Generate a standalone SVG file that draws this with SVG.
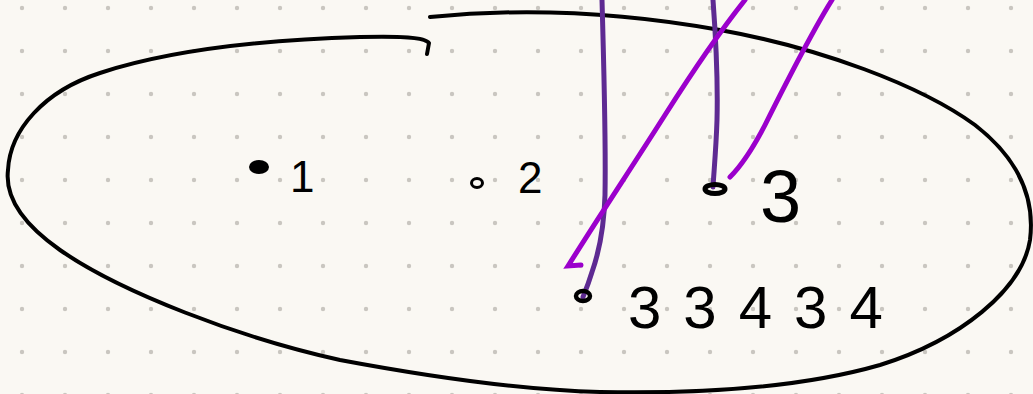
<svg xmlns="http://www.w3.org/2000/svg" width="1033" height="394" viewBox="0 0 1033 394">
<style>
.ink{fill:none;stroke:#000;stroke-linecap:round;stroke-linejoin:round}
.lbl{font-family:"Liberation Sans",Arial,sans-serif;fill:#000}
.dk{fill:none;stroke:#5e2a92;stroke-width:5;stroke-linecap:round}
.mg{fill:none;stroke:#9b00cc;stroke-width:5;stroke-linecap:round}
</style>
<defs>
<pattern id="dots" width="43" height="43" patternUnits="userSpaceOnUse">
<circle cx="22" cy="8" r="2.2" fill="#c9c6c0"/>
</pattern>
</defs>
<rect width="1033" height="394" fill="#faf8f3"/>
<rect width="1033" height="394" fill="url(#dots)"/>
<g id="loop">
<path class="ink" stroke-width="4" d="M430,17 C520,8 620,12 720,30 C820,48 920,85 975,125 C1020,160 1035,200 1030,240 C1022,290 960,340 880,365 C800,388 700,394 600,392 C520,390 420,375 340,360 C240,338 120,292 60,250 C20,222 5,195 8,170 C10,130 44,91 100,73 C170,50 260,40 360,37 C400,36 425,37 429,43 L427,54"/>
</g>
<g id="connectors">
<path class="dk" d="M602,0 C604,70 606,140 605,195 C604,230 598,255 592,272 C588,285 585,292 583,297"/>
<path class="dk" d="M713,0 C716,40 718,80 717,120 C716,150 714,170 713,187"/>
<path class="mg" d="M745,0 C725,25 700,60 665,115 C630,170 600,215 568,266 L581,265"/>
<path class="mg" d="M832,0 C810,35 785,85 765,125 C752,150 742,165 730,177"/>
</g>
<g id="node1">
<ellipse cx="259" cy="167" rx="10" ry="7" fill="#000"/>
<text class="lbl" x="290" y="192" font-size="44">1</text>
</g>
<g id="node2">
<ellipse cx="477" cy="183" rx="5.5" ry="4.5" class="ink" stroke-width="3"/>
<text class="lbl" x="518" y="193" font-size="44">2</text>
</g>
<g id="node3">
<ellipse cx="715" cy="189" rx="10" ry="4.5" class="ink" stroke-width="5"/>
<text class="lbl" x="760" y="222" font-size="74">3</text>
</g>
<g id="node4">
<ellipse cx="583" cy="296" rx="7" ry="5" class="ink" stroke-width="4.5"/>
<text class="lbl" x="628" y="328" font-size="60" letter-spacing="22">33434</text>
</g>
</svg>
